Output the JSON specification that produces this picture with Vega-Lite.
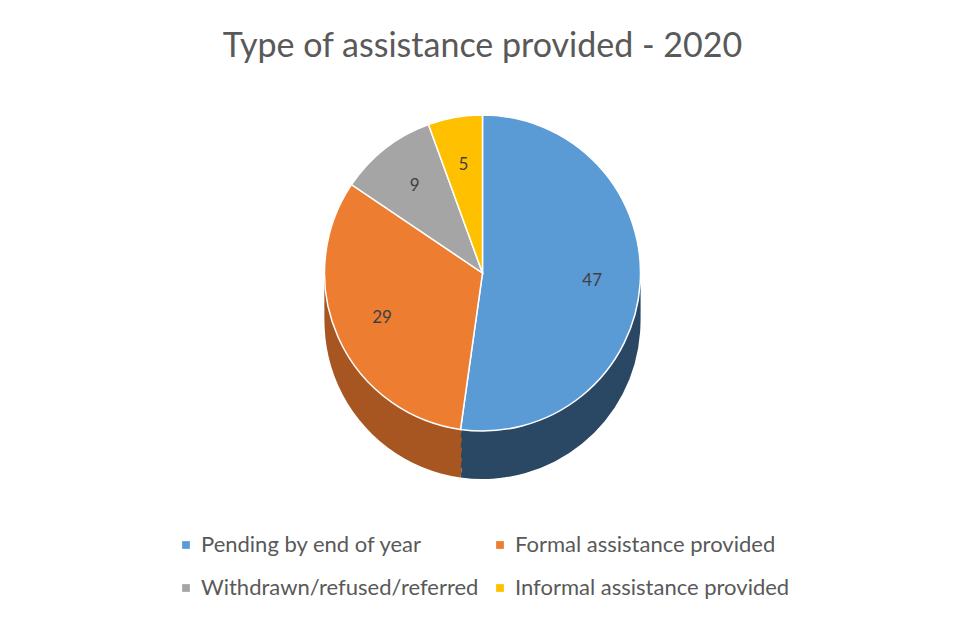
{
  "$schema": "https://vega.github.io/schema/vega-lite/v6.json",
  "width": 965,
  "height": 623,
  "autosize": {"type": "fit", "contains": "padding"},
  "padding": {"top": 30, "bottom": 24, "left": 5, "right": 5},
  "background": "white",
  "title": {
    "text": "Type of assistance provided - 2020",
    "font": "Lato",
    "fontSize": 34,
    "fontWeight": "normal",
    "color": "#595959",
    "offset": 8
  },
  "data": {
    "values": [
      {"category": "Pending by end of year", "count": 47, "rank": 1},
      {"category": "Formal assistance provided", "count": 29, "rank": 2},
      {"category": "Withdrawn/refused/referred", "count": 9, "rank": 3},
      {"category": "Informal assistance provided", "count": 5, "rank": 4}
    ]
  },
  "encoding": {
    "theta": {"field": "count", "type": "quantitative", "stack": true},
    "order": {"field": "rank", "type": "quantitative"}
  },
  "layer": [
    {
      "mark": {"type": "arc", "radius": 158, "yOffset": 30},
      "encoding": {
        "color": {"field": "category", "type": "nominal", "legend": null,
          "scale": {"domain": ["Pending by end of year", "Formal assistance provided", "Withdrawn/refused/referred", "Informal assistance provided"],
                    "range": ["#2A4763", "#A75622", "#7A7A7A", "#B08600"]}}
      }
    },
    {
      "mark": {"type": "arc", "radius": 158, "yOffset": 20},
      "encoding": {
        "color": {"field": "category", "type": "nominal", "legend": null,
          "scale": {"domain": ["Pending by end of year", "Formal assistance provided", "Withdrawn/refused/referred", "Informal assistance provided"],
                    "range": ["#2A4763", "#A75622", "#7A7A7A", "#B08600"]}}
      }
    },
    {
      "mark": {"type": "arc", "radius": 158, "yOffset": 10},
      "encoding": {
        "color": {"field": "category", "type": "nominal", "legend": null,
          "scale": {"domain": ["Pending by end of year", "Formal assistance provided", "Withdrawn/refused/referred", "Informal assistance provided"],
                    "range": ["#2A4763", "#A75622", "#7A7A7A", "#B08600"]}}
      }
    },
    {
      "mark": {"type": "arc", "radius": 158, "yOffset": 0},
      "encoding": {
        "color": {"field": "category", "type": "nominal", "legend": null,
          "scale": {"domain": ["Pending by end of year", "Formal assistance provided", "Withdrawn/refused/referred", "Informal assistance provided"],
                    "range": ["#2A4763", "#A75622", "#7A7A7A", "#B08600"]}}
      }
    },
    {
      "mark": {"type": "arc", "radius": 158, "yOffset": -10},
      "encoding": {
        "color": {"field": "category", "type": "nominal", "legend": null,
          "scale": {"domain": ["Pending by end of year", "Formal assistance provided", "Withdrawn/refused/referred", "Informal assistance provided"],
                    "range": ["#2A4763", "#A75622", "#7A7A7A", "#B08600"]}}
      }
    },
    {
      "mark": {"type": "arc", "radius": 158, "yOffset": -18, "stroke": "white", "strokeWidth": 1.5},
      "encoding": {
        "color": {"field": "category", "type": "nominal",
          "scale": {"domain": ["Pending by end of year", "Formal assistance provided", "Withdrawn/refused/referred", "Informal assistance provided"],
                    "range": ["#5B9BD5", "#ED7D31", "#A5A5A5", "#FFC000"]},
          "legend": {
            "title": null,
            "orient": "bottom",
            "columns": 2,
            "symbolType": "square",
            "symbolSize": 60,
            "symbolStrokeWidth": 0,
            "labelFont": "Lato",
            "labelFontSize": 22,
            "labelColor": "#595959",
            "labelLimit": 400,
            "columnPadding": 10,
            "rowPadding": 21,
            "offset": 24
          }
        }
      }
    },
    {
      "mark": {"type": "text", "radius": 110, "yOffset": -18, "font": "Lato", "fontSize": 17, "color": "#404040"},
      "encoding": {
        "text": {"field": "count", "type": "quantitative"}
      }
    }
  ],
  "resolve": {"scale": {"color": "independent"}},
  "config": {
    "view": {"stroke": null},
    "legend": {"layout": {"bottom": {"anchor": "middle"}}}
  }
}
